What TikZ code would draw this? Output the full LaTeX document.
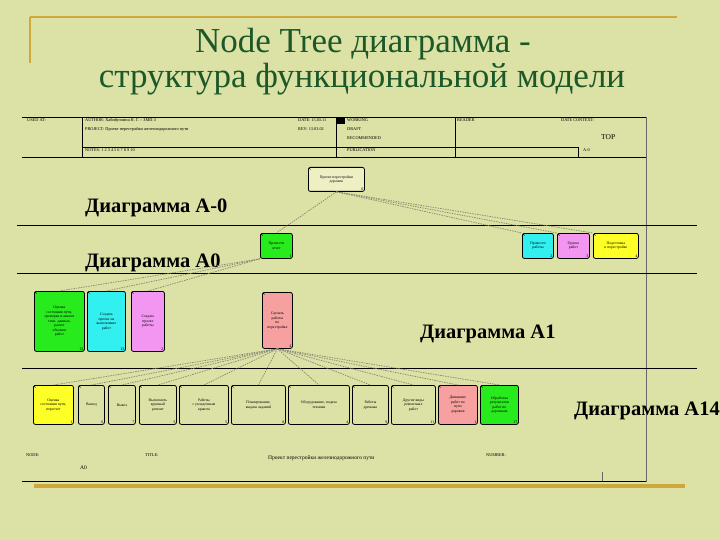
\documentclass[tikz,border=0pt]{standalone}
\usepackage{fontspec}
\setmainfont{Liberation Serif}
\definecolor{bg}{RGB}{220,226,166}
\definecolor{gold}{RGB}{206,168,58}
\definecolor{titlegreen}{RGB}{28,88,40}
\definecolor{ngreen}{RGB}{40,235,30}
\definecolor{ncyan}{RGB}{50,240,240}
\definecolor{npink}{RGB}{242,150,242}
\definecolor{nyellow}{RGB}{255,255,40}
\definecolor{nsalmon}{RGB}{246,160,160}
\definecolor{nlight}{RGB}{238,240,196}
\definecolor{conncol}{RGB}{135,135,115}
\tikzset{
  ibox/.style={draw=black, line width=0.8pt, rounded corners=2pt, inner sep=1pt, align=center,
    font=\fontsize{3.8}{4.5}\selectfont},
  inum/.style={inner sep=0pt, font=\fontsize{4}{4}\selectfont},
  conn/.style={draw=conncol, line width=0.7pt, dash pattern=on 1.5pt off 1pt},
  hdr/.style={inner sep=0pt, anchor=base west, font=\fontsize{4.3}{5}\selectfont},
  diag/.style={inner sep=0pt, anchor=base west, font=\fontsize{20.5}{23}\selectfont\bfseries},
  ttl/.style={inner sep=0pt, anchor=base, text=titlegreen, font=\fontsize{35}{40}\selectfont},
  frame/.style={draw=black, line width=0.8pt},
}
\newcommand\mkbox[8]{%
  \node[ibox, fill=#6, minimum width=#4pt, minimum height=#5pt, anchor=north west] (#1) at (#2,#3) {#7};
  \node[inum, anchor=south east] (#1-n) at ([xshift=-1.3pt,yshift=1pt]#1.south east) {#8};
  \draw[line width=0.4pt] ([xshift=1pt,yshift=-1pt]#1.north west) -- ++(1.6,1.6);
}
\begin{document}
\begin{tikzpicture}[x=1pt,y=-1pt]
\useasboundingbox (0,0) rectangle (720,540);
\fill[bg] (0,0) rectangle (720,540);
% gold decorations
\draw[gold, line width=2.5pt] (30,17) -- (677,17);
\draw[gold, line width=2.5pt] (30,17) -- (30,63);
\draw[gold, line width=3.5pt] (34,486) -- (685,486);
% title
\node[ttl] (t1) at (363,53) {Node Tree диаграмма -};
\node[ttl] (t2) at (362,88) {структура функциональной модели};
% header frame
\draw[frame] (22,117) -- (646,117);
\draw[frame] (22,157) -- (646,157);
\draw[frame] (82,117) -- (82,157);
\draw[frame] (336,117) -- (336,157);
\draw[frame] (455,117) -- (455,157);
\draw[frame] (82,147) -- (578,147);
\draw[frame] (578,147) -- (578,157);
\fill[black] (336,117) rectangle (345,124);
\draw[black!60, line width=0.6pt] (646,117) -- (646,482);
% header texts
\node[hdr] (h1) at (27,122) {USED AT:};
\node[hdr] (h2) at (85,122) {AUTHOR: Хабибуллина Н. Г. -- ЗМП-3};
\node[hdr] (h3) at (85,131) {PROJECT: Проект перестройки железнодорожного пути};
\node[hdr] (h4) at (85,152) {NOTES: 1 2 3 4 5 6 7 8 9 10};
\node[hdr] (h5) at (298,122) {DATE: 15.03.11};
\node[hdr] (h6) at (298,131) {REV: 13.03.02};
\node[hdr] (h7) at (347,122) {WORKING};
\node[hdr] (h8) at (347,131) {DRAFT};
\node[hdr] (h9) at (347,140) {RECOMMENDED};
\node[hdr] (h10) at (347,152) {PUBLICATION};
\node[hdr] (h11) at (457,122) {READER};
\node[hdr] (h12) at (561,122) {DATE CONTEXT:};
\node[hdr, font=\fontsize{7.5}{8}\selectfont] (h13) at (601,140) {TOP};
\node[hdr] (h14) at (583,152) {A-0};
% level separators
\draw[frame] (17,225) -- (697,225);
\draw[frame] (17,273) -- (697,273);
\draw[frame] (22,368) -- (697,368);
% level labels
\node[diag] (d1) at (85,213) {Диаграмма A-0};
\node[diag] (d2) at (85,267) {Диаграмма A0};
\node[diag] (d3) at (420,338) {Диаграмма A1};
\node[diag] (d4) at (574,415) {Диаграмма A14};
% top node
\mkbox{top}{308}{167}{56}{24}{nlight}{Проект перестройки\\дорожек}{0}
% A0
\mkbox{g1}{260}{233}{32}{25}{ngreen}{Провести\\отчет}{1}
\mkbox{c2}{522}{233}{31}{25}{ncyan}{Провести\\работы}{2}
\mkbox{p3}{557}{233}{32}{25}{npink}{Группа\\работ}{3}
\mkbox{y4}{593}{233}{45}{25}{nyellow}{Подготовка\\к перестройке}{4}
% A1
\mkbox{a12}{34}{291}{50}{60}{ngreen}{Оценка\\состояния пути,\\проверка и анализ\\техн. данных,\\расчет\\объемов\\работ}{12}
\mkbox{a13}{87}{291}{38}{60}{ncyan}{Создать\\проект на\\выполнение\\работ}{13}
\mkbox{a2}{131}{291}{33}{60}{npink}{Создать\\проект\\работы}{2}
\mkbox{a4}{262}{292}{30}{56}{nsalmon}{Сделать\\работы\\по\\перестройке}{4}
% A14
\mkbox{b1}{33}{385}{40}{39}{nyellow}{Оценка\\состояния пути,\\пересчет}{1}
\mkbox{b6}{78}{385}{26}{39}{bg}{Вывод}{6}
\mkbox{b7}{108}{385}{27}{39}{bg}{Вывоз}{7}
\mkbox{b3}{139}{385}{37}{39}{bg}{Выполнить\\крупный\\ремонт}{3}
\mkbox{b5}{179}{385}{49}{39}{bg}{Работы\\с укладочным\\краном}{5}
\mkbox{b8}{231}{385}{54}{39}{bg}{Планирование,\\выдача заданий}{8}
\mkbox{b4}{288}{385}{61}{39}{bg}{Оборудование, подача\\техники}{4}
\mkbox{b9}{352}{385}{36}{39}{bg}{Работы\\дренажа}{9}
\mkbox{b11}{391}{385}{44}{39}{bg}{Другие виды\\ремонтных\\работ}{11}
\mkbox{bp}{438}{385}{39}{39}{nsalmon}{Движение\\работ по\\пути\\дорожек}{1}
\mkbox{bgr}{480}{385}{38}{39}{ngreen}{Обработка\\результатов\\работ по\\дорожкам}{17}
% connectors
\draw[conn] (top.south) -- (g1.north);
\draw[conn] (top.south) -- (c2.north west);
\draw[conn] (top.south) -- (p3.north west);
\draw[conn] (top.south) -- (y4.north west);
\draw[conn] (g1.south west) -- (a12.north);
\draw[conn] (g1.south west) -- (a13.north);
\draw[conn] (g1.south west) -- (a2.north);
\foreach \b in {b1,b6,b7,b3,b5,b8,b4,b9,b11,bp,bgr}{
  \draw[conn] (a4.south) -- (\b.north);
}
% footer
\draw[frame] (22,481) -- (646,481);
\draw[black!60, line width=0.6pt] (602,472) -- (602,481);
\node[hdr] (f1) at (26,456) {NODE:};
\node[hdr, font=\fontsize{5.5}{6}\selectfont] (f2) at (80,469) {A0};
\node[hdr] (f3) at (145,456) {TITLE:};
\node[hdr, font=\fontsize{5.5}{6}\selectfont] (f4) at (268,459) {Проект перестройки железнодорожного пути};
\node[hdr] (f5) at (486,456) {NUMBER:};
\end{tikzpicture}
\end{document}
